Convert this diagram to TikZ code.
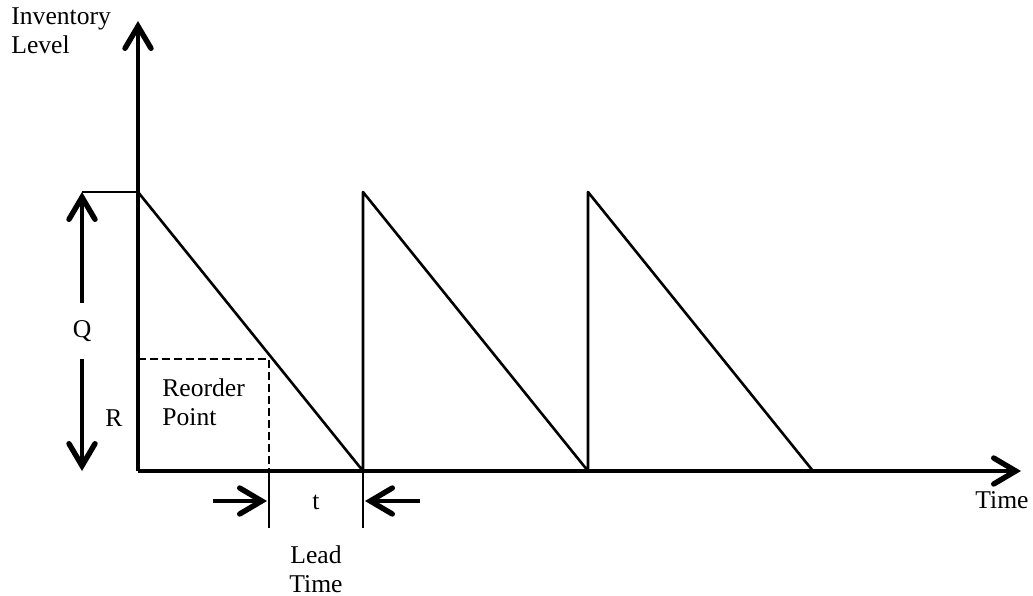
\documentclass[tikz,border=0pt]{standalone}
\usepackage{fontspec}
\setmainfont{Liberation Serif}
\usetikzlibrary{arrows.meta}
\tikzset{
  barb/.style    = {-{Straight Barb[length=11pt,width=13pt,line width=2.7pt,line cap=round]}},
  axis/.style    = {barb, line width=1.6pt},
  tooth/.style   = {line width=1.3pt, line join=round},
  guide/.style   = {line width=0.7pt},
  marker/.style  = {barb, line width=2pt},
  lbl/.style     = {inner sep=0pt, font=\fontsize{12.8}{14.5}\selectfont},
}
\begin{document}
\begin{tikzpicture}[x=0.5pt,y=-0.5pt]
\useasboundingbox (0,0) rectangle (1033,595);
% axes
\coordinate (O) at (138,471);
\coordinate (ytop) at (138,21);
\coordinate (xend) at (1021,471);
\draw[axis] (O) -- (ytop);
\draw[axis] (O) -- (xend);
\node[lbl,anchor=north west,align=left] (inv) at (11,7) {Inventory\\Level};
\node[lbl] (time) at (1002,500) {Time};
% sawtooth
\coordinate (p1) at (138,192); \coordinate (z1) at (363,471);
\coordinate (p2) at (363,192); \coordinate (z2) at (588,471);
\coordinate (p3) at (588,192); \coordinate (z3) at (813,471);
\draw[tooth] (p1) -- (z1) -- (p2) -- (z2) -- (p3) -- (z3);
% order quantity Q
\coordinate (qtop) at (82,192);
\coordinate (qbot) at (82,471);
\draw[guide] (qtop) -- (p1);
\node[lbl,minimum height=27.5pt] (q) at (82,331) {Q};
\draw[marker] (q.north) -- (qtop);
\draw[marker] (q.south) -- (qbot);
\node[lbl] (r) at (114,418) {R};
% reorder point
\coordinate (rp) at (138,359);
\coordinate (rc) at (269,359);
\coordinate (rb) at (269,471);
\draw[guide,dashed,dash pattern=on 4pt off 2pt] (rp) -- (rc) -- (rb);
\node[lbl,anchor=west,align=left] (reorder) at (162,402) {Reorder\\Point};
% lead time
\coordinate (l1) at (269,528);
\coordinate (l2) at (363,528);
\draw[guide] (rb) -- (l1);
\draw[guide] (z1) -- (l2);
\coordinate (la) at (213,501); \coordinate (lat) at (267,501);
\coordinate (ra) at (420,501); \coordinate (rat) at (365,501);
\draw[marker] (la) -- (lat);
\draw[marker] (ra) -- (rat);
\node[lbl] (t) at (316,502) {t};
\node[lbl,align=center] (lead) at (316,569) {Lead\\Time};
\end{tikzpicture}
\end{document}
